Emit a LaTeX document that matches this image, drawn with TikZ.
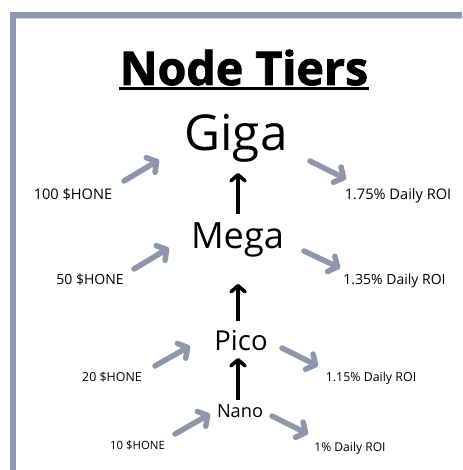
\documentclass[tikz,border=0pt]{standalone}
\usepackage{fontspec}
\setmainfont{Open Sans}
\newfontfamily\titlefont{Open Sans}[BoldFeatures={FakeBold=1.8}]
\usetikzlibrary{arrows.meta}
\definecolor{framegray}{HTML}{8E97AB}
\definecolor{framelight}{HTML}{C9D1E0}
\definecolor{arrowgray}{HTML}{8D96AA}
\tikzset{
  tier/.style={anchor=base, inner sep=0pt},
  lbl/.style={anchor=base, inner sep=0pt},
  grayarrow/.style={draw=arrowgray, line width=5.5pt, line cap=round,
    -{Straight Barb[length=7pt,width=17pt,round]}},
  blackarrow/.style={draw=black, line width=3.6pt,
    -{Straight Barb[length=6pt,width=14pt,round]}},
}
\begin{document}
\begin{tikzpicture}[x=1pt,y=-1pt]
\useasboundingbox (0,0) rectangle (462,470);
% frame
\fill[framegray] (10,12) rectangle (462,18);
\fill[framegray] (10,12) rectangle (16,470);
\draw[framelight, line width=0.8pt] (16,18.4) -- (462,18.4);
% title
\node[tier] (title) at (244,85) {\titlefont\fontsize{46.5}{50}\selectfont\bfseries Node Tiers};
\draw[line width=2.2pt] (119,88.5) -- (369,88.5);
% tiers
\node[tier] (giga) at (236,151) {\fontsize{49.5}{54}\selectfont Giga};
\node[tier] (mega) at (237.5,248) {\fontsize{36.2}{40}\selectfont Mega};
\node[tier] (pico) at (241,350) {\fontsize{27.5}{30}\selectfont Pico};
\node[tier] (nano) at (240,417) {\fontsize{18.2}{20}\selectfont Nano};
% labels
\node[lbl] (h100) at (73,199) {\fontsize{14.6}{17}\selectfont 100 \$HONE};
\node[lbl] (r175) at (398,199) {\fontsize{14.6}{17}\selectfont 1.75\% Daily ROI};
\node[lbl] (h50) at (90,284) {\fontsize{14}{17}\selectfont 50 \$HONE};
\node[lbl] (r135) at (394.5,284) {\fontsize{14}{17}\selectfont 1.35\% Daily ROI};
\node[lbl] (h20) at (112,381) {\fontsize{12.4}{15}\selectfont 20 \$HONE};
\node[lbl] (r115) at (371,381) {\fontsize{12.4}{15}\selectfont 1.15\% Daily ROI};
\node[lbl] (h10) at (137.5,449) {\fontsize{11.4}{14}\selectfont 10 \$HONE};
\node[lbl] (r1) at (350,451) {\fontsize{12.1}{14}\selectfont 1\% Daily ROI};
% arrow end points
\coordinate (gl1) at (124,181); \coordinate (gl2) at (159,160);
\coordinate (gr1) at (310,161); \coordinate (gr2) at (346,179);
\coordinate (ml1) at (134,269); \coordinate (ml2) at (169,248);
\coordinate (mr1) at (304,251); \coordinate (mr2) at (340,268);
\coordinate (pl1) at (155,366); \coordinate (pl2) at (190,346);
\coordinate (pr1) at (282,348); \coordinate (pr2) at (318,366);
\coordinate (nl1) at (175,434); \coordinate (nl2) at (210,414);
\coordinate (nr1) at (272,416); \coordinate (nr2) at (308,434);
\coordinate (b1a) at (238,214); \coordinate (b1b) at (238,173);
\coordinate (b2a) at (238,321); \coordinate (b2b) at (238,284);
\coordinate (b3a) at (238,400); \coordinate (b3b) at (238,358);
% gray arrows
\draw[grayarrow] (gl1) -- (gl2);
\draw[grayarrow] (gr1) -- (gr2);
\draw[grayarrow] (ml1) -- (ml2);
\draw[grayarrow] (mr1) -- (mr2);
\draw[grayarrow] (pl1) -- (pl2);
\draw[grayarrow] (pr1) -- (pr2);
\draw[grayarrow] (nl1) -- (nl2);
\draw[grayarrow] (nr1) -- (nr2);
% black arrows
\draw[blackarrow] (b1a) -- (b1b);
\draw[blackarrow] (b2a) -- (b2b);
\draw[blackarrow] (b3a) -- (b3b);
\end{tikzpicture}
\end{document}
